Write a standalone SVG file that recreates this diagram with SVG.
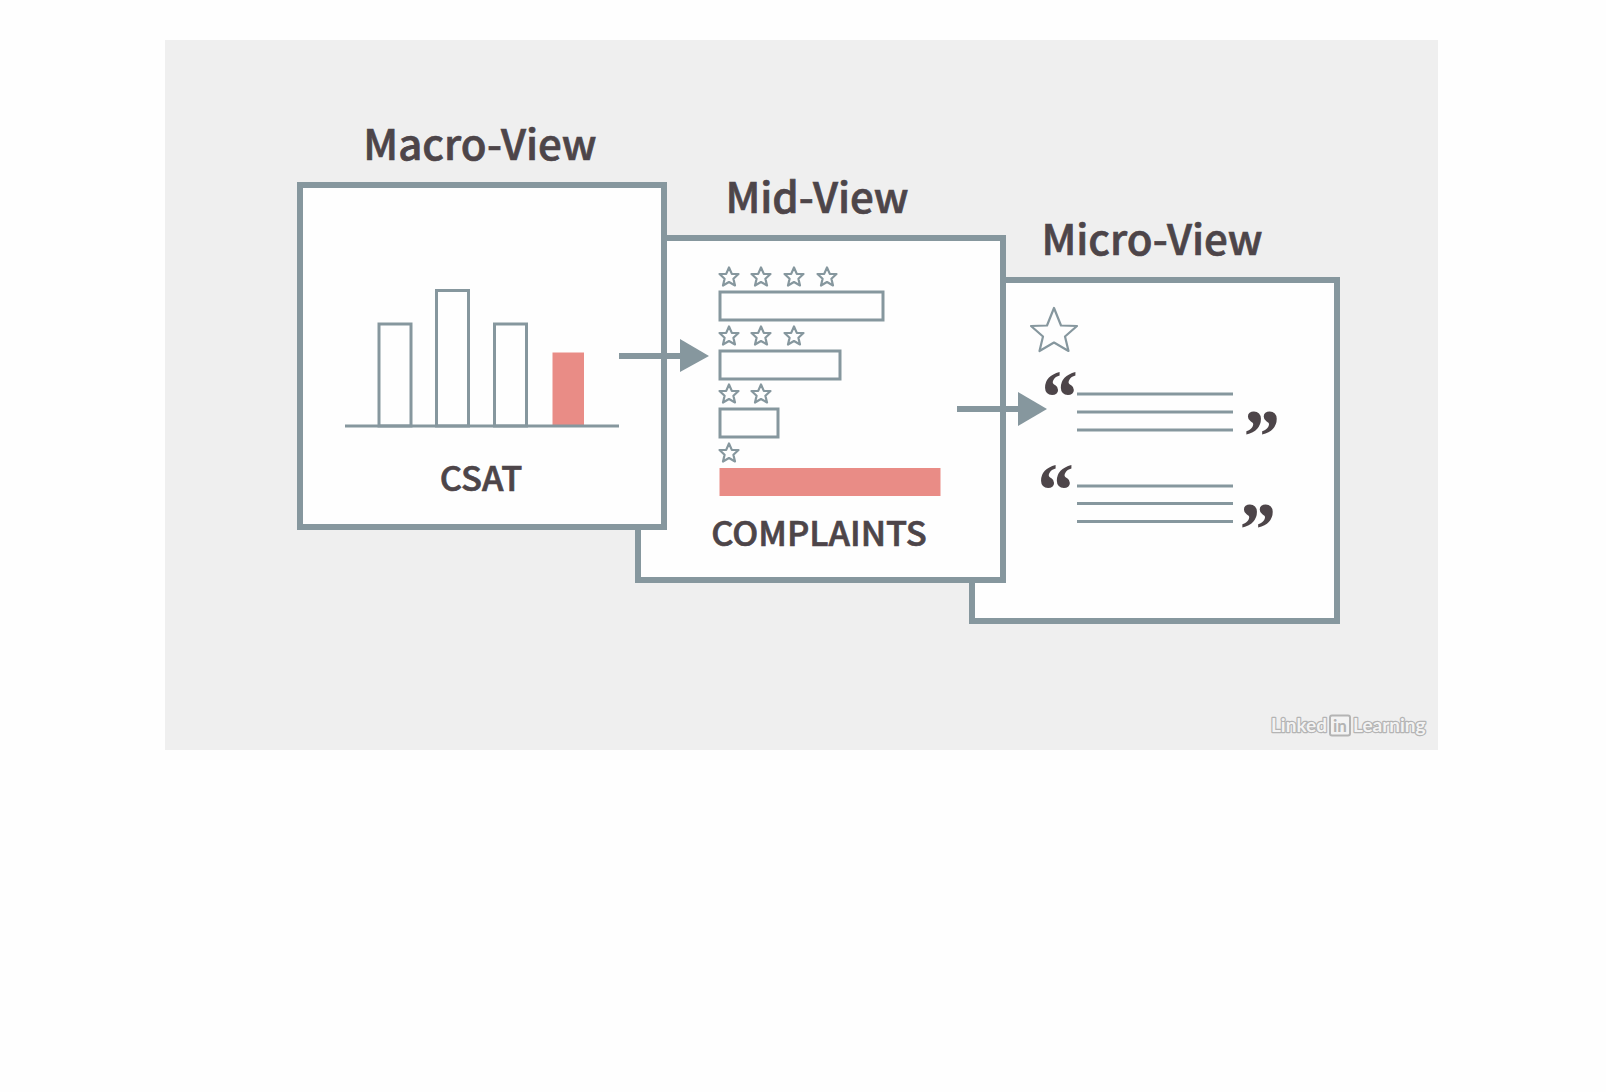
<svg xmlns="http://www.w3.org/2000/svg" xmlns:xlink="http://www.w3.org/1999/xlink" width="1606" height="1092" viewBox="0 0 1606 1092">
<style>
.box{fill:#fefefe;stroke:#86979e;stroke-width:6}
.bar{fill:#fefefe;stroke:#86979e;stroke-width:3}
.pink{fill:#e98c86}
.ln{stroke:#86979e;stroke-width:3;fill:none}
.star{fill:#fefefe;stroke:#86979e;stroke-width:2.2;stroke-linejoin:round}
.t{font-family:"Noto Sans CJK SC","Noto Sans",sans-serif;font-weight:500;fill:#4d4549;stroke:#4d4549;stroke-width:.7;text-anchor:middle}
.q{font-family:"Liberation Serif",serif;font-weight:700;font-style:italic;font-size:77px;fill:#4d4549;text-anchor:middle}
.wm{font-family:"Lato","Liberation Sans",sans-serif;font-weight:700;font-size:19px;fill:#f3f3f3;stroke:#b4b4b4;stroke-width:2.4;paint-order:stroke;stroke-linejoin:round}
.arr{stroke:#86979e;stroke-width:6;fill:none}
.head{fill:#86979e}
</style>
<defs>
<polygon id="s" points="0,-9.500 2.800,-3.100 9.500,-3 4.400,1.700 6,8.500 0,5 -6,8.500 -4.400,1.700 -9.500,-3 -2.800,-3.100"/>
</defs>
<rect width="1606" height="1092" fill="#fefefe"/>
<rect x="165" y="40" width="1273" height="710" fill="#efefef"/>

<g id="micro-view">
<rect class="box" x="972" y="280" width="365" height="341"/>
<text class="t" x="1152" y="255" font-size="42">Micro-View</text>
<polygon class="star" points="1054,308 1061,325.500 1077,326 1065,336.500 1068.500,351 1054,342.500 1039.500,351 1043,336.500 1031,326 1047,325.500"/>
<text class="q" x="1057" y="422.500">“</text>
<path class="ln" d="M1077 394H1233M1077 412H1233M1077 430H1233"/>
<text class="q" x="1258.700" y="462">”</text>
<text class="q" x="1053" y="515.500">“</text>
<path class="ln" d="M1077 486H1233M1077 503.500H1233M1077 521.500H1233"/>
<text class="q" x="1254.700" y="555">”</text>
</g>

<g id="mid-view">
<rect class="box" x="638" y="238" width="365" height="342"/>
<text class="t" x="817" y="213" font-size="42">Mid-View</text>
<g class="star">
<use xlink:href="#s" href="#s" x="729" y="277"/><use href="#s" x="761" y="277"/><use href="#s" x="794" y="277"/><use href="#s" x="827" y="277"/>
<use href="#s" x="729" y="336"/><use href="#s" x="761" y="336"/><use href="#s" x="794" y="336"/>
<use href="#s" x="729" y="394"/><use href="#s" x="761" y="394"/>
<use href="#s" x="729" y="453"/>
</g>
<rect class="bar" x="720" y="292" width="163" height="28"/>
<rect class="bar" x="720" y="351" width="120" height="28"/>
<rect class="bar" x="720" y="409" width="58" height="28"/>
<rect class="pink" x="719.500" y="468" width="221" height="28"/>
<text class="t" x="819" y="546" font-size="34.500">COMPLAINTS</text>
</g>

<g id="macro-view">
<rect class="box" x="300" y="185" width="364" height="342"/>
<text class="t" x="480" y="160" font-size="42">Macro-View</text>
<rect class="bar" x="379" y="324" width="32" height="102"/>
<rect class="bar" x="436.500" y="290.500" width="32" height="135.500"/>
<rect class="bar" x="494.500" y="324" width="32" height="102"/>
<rect class="pink" x="552.500" y="352.500" width="31.500" height="73.500"/>
<line class="ln" x1="345" y1="426" x2="619" y2="426"/>
<text class="t" x="481" y="491" font-size="34.500">CSAT</text>
</g>

<g id="connectors">
<line class="arr" x1="619" y1="356" x2="684" y2="356"/>
<polygon class="head" points="680,339 709,356 680,372"/>
<line class="arr" x1="957" y1="409" x2="1022" y2="409"/>
<polygon class="head" points="1018,392 1047,409 1018,426"/>
</g>

<g id="watermark">
<text class="wm" x="1271" y="731.500">Linked</text>
<rect x="1330" y="715.500" width="20" height="20" rx="2" fill="#f3f3f3" stroke="#b4b4b4" stroke-width="2"/>
<text x="1340" y="731.500" font-family="'Lato','Liberation Sans',sans-serif" font-weight="700" font-size="17" fill="#b4b4b4" text-anchor="middle">in</text>
<text class="wm" x="1353" y="731.500">Learning</text>
</g>
</svg>
